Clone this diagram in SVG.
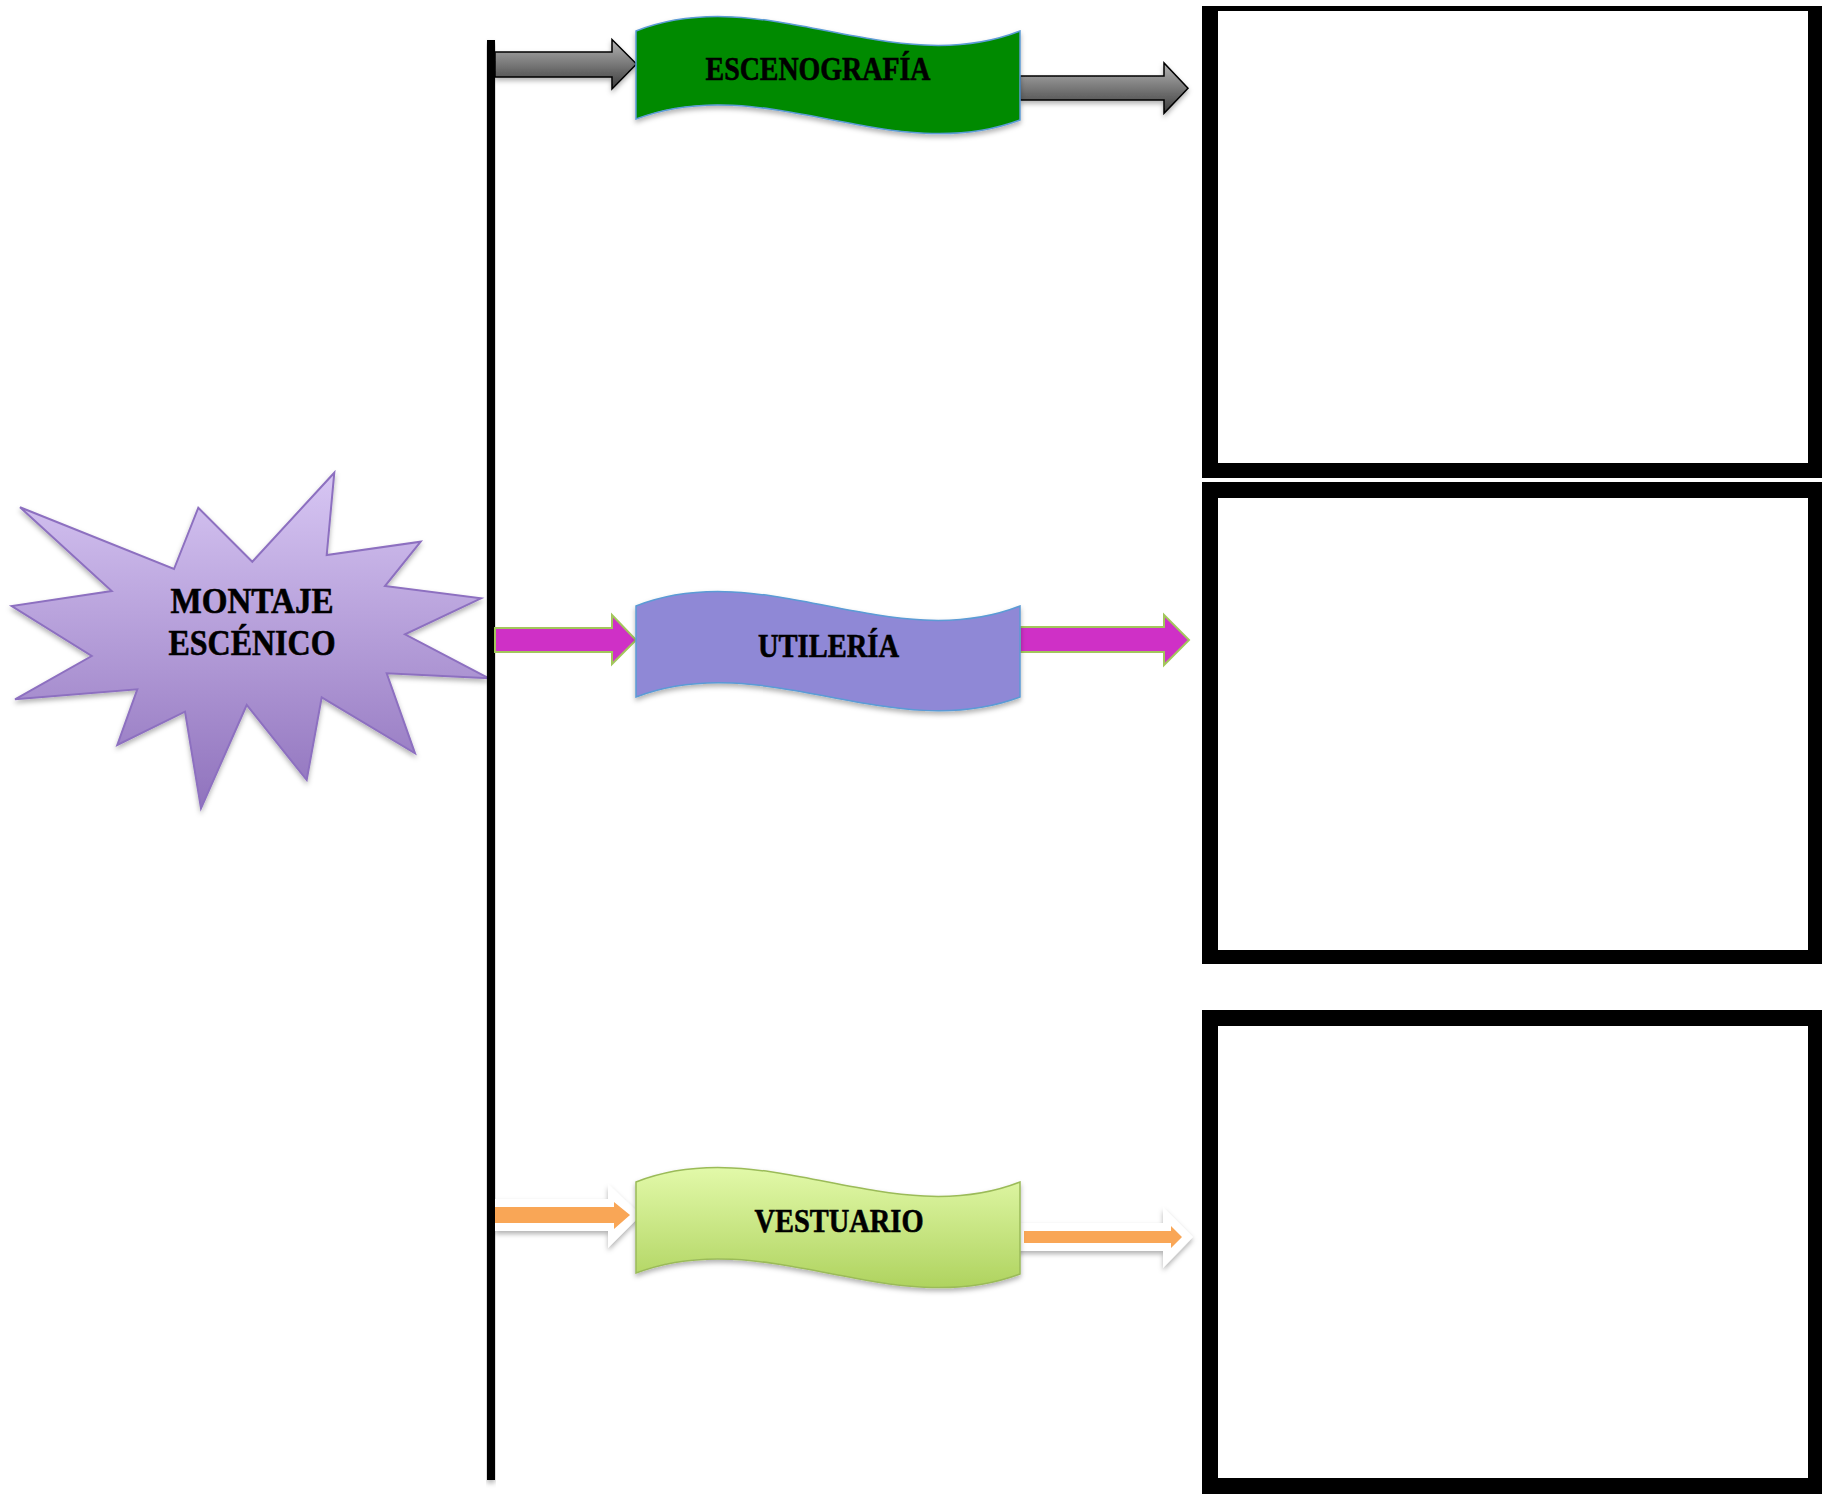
<svg xmlns="http://www.w3.org/2000/svg" width="1822" height="1494" viewBox="0 0 1822 1494">
<style>
.lbl{font-family:"Liberation Serif","Times New Roman",serif;font-weight:bold;fill:#000;stroke:#000;stroke-width:0.6;text-anchor:middle}
.box{fill:#000}
.inner{fill:#fff}
.gray{fill:url(#grayGrad);stroke:#000;stroke-width:1.5;stroke-linejoin:miter}
.mag{fill:#cf30c6;stroke:#a3c65c;stroke-width:2}
.owhite{fill:#fff}
.orange{fill:#f9a656}
</style>
<defs>
<linearGradient id="grayGrad" x1="0" y1="0" x2="0" y2="1">
<stop offset="0" stop-color="#b4b4b4"/>
<stop offset="1" stop-color="#3c3c3c"/>
</linearGradient>
<linearGradient id="starGrad" x1="0" y1="0" x2="0" y2="1">
<stop offset="0" stop-color="#d7c6f3"/>
<stop offset="1" stop-color="#9073bd"/>
</linearGradient>
<linearGradient id="limeGrad" x1="0" y1="0" x2="0" y2="1">
<stop offset="0" stop-color="#e2f9a9"/>
<stop offset="1" stop-color="#afd35f"/>
</linearGradient>
<filter id="shadow" x="-10%" y="-20%" width="120%" height="150%">
<feDropShadow dx="0" dy="3" stdDeviation="2.5" flood-color="#000" flood-opacity="0.3"/>
</filter>
</defs>

<g id="box-escenografia">
<rect class="box" x="1202" y="6" width="630" height="472"/>
<rect class="inner" x="1218" y="11" width="590" height="452"/>
</g>
<g id="box-utileria">
<rect class="box" x="1202" y="482" width="630" height="482"/>
<rect class="inner" x="1218" y="498" width="590" height="452"/>
</g>
<g id="box-vestuario">
<rect class="box" x="1202" y="1010" width="630" height="490"/>
<rect class="inner" x="1218" y="1026" width="590" height="452"/>
</g>

<g id="montaje-escenico">
<polygon filter="url(#shadow)" fill="url(#starGrad)" stroke="#8d70c0" stroke-width="2" stroke-linejoin="miter" points="334.3,472.7 326.7,555 420.7,541.7 385,586 481,598.3 405,634.3 489,678.3 386.7,673.3 415,753.3 321.7,697.3 306.7,780 246.7,705 201,808.3 185,711.7 117.3,745 137.3,689.3 15,699.3 91.7,656 11.7,606 111.7,591 20,507.3 174,569 198.3,507.7 252.3,561.7"/>
<text class="lbl" x="252" y="613" font-size="35" textLength="163" lengthAdjust="spacingAndGlyphs">MONTAJE</text>
<text class="lbl" x="252" y="655" font-size="35" textLength="167" lengthAdjust="spacingAndGlyphs">ESCÉNICO</text>
</g>

<g id="connectors">
<rect x="487" y="40" width="8" height="1440" fill="#000" filter="url(#shadow)"/>
<polygon class="gray" filter="url(#shadow)" points="495,52 612,52 612,39.5 636.5,64 612,89 612,77 495,77"/>
<polygon class="gray" filter="url(#shadow)" points="1020,76 1164,76 1164,63 1188,88.3 1164,113.3 1164,100 1020,100"/>
<polygon class="mag" points="495,628 612,628 612,615 636,640 612,664 612,652 495,652"/>
<polygon class="mag" points="1020,627 1164,627 1164,615 1189,640 1164,665 1164,652 1020,652"/>
<polygon class="owhite" filter="url(#shadow)" points="495,1199 608,1199 608,1184 641,1215 608,1248 608,1231 495,1231"/>
<polygon class="orange" points="495,1207 614,1207 614,1202 630,1215 614,1229 614,1223 495,1223"/>
<polygon class="owhite" filter="url(#shadow)" points="1015,1223 1163,1223 1163,1207 1193,1237 1163,1268 1163,1251 1015,1251"/>
<polygon class="orange" points="1024,1231 1171,1231 1171,1226 1182,1237 1171,1248 1171,1243 1024,1243"/>
</g>

<g id="escenografia">
<path filter="url(#shadow)" fill="#008a00" stroke="#5b9bd5" stroke-width="1.5" d="M636,31 C764,-19 892,81 1020,31 L1020,120 C892,168 764,70 636,119 Z"/>
<text class="lbl" x="818" y="80" font-size="33" textLength="225" lengthAdjust="spacingAndGlyphs">ESCENOGRAFÍA</text>
</g>

<g id="utileria">
<path filter="url(#shadow)" fill="#8f88d6" stroke="#5b9bd5" stroke-width="1.5" d="M636,606 C764,556 892,656 1020,606 L1020,697 C892,745 764,648 636,697 Z"/>
<text class="lbl" x="828.5" y="657" font-size="33" textLength="141" lengthAdjust="spacingAndGlyphs">UTILERÍA</text>
</g>

<g id="vestuario">
<path filter="url(#shadow)" fill="url(#limeGrad)" stroke="#9bbb59" stroke-width="1.5" d="M636,1182 C764,1132 892,1232 1020,1182 L1020,1274 C892,1322 764,1224 636,1273 Z"/>
<text class="lbl" x="839" y="1232" font-size="33" textLength="169" lengthAdjust="spacingAndGlyphs">VESTUARIO</text>
</g>
</svg>
